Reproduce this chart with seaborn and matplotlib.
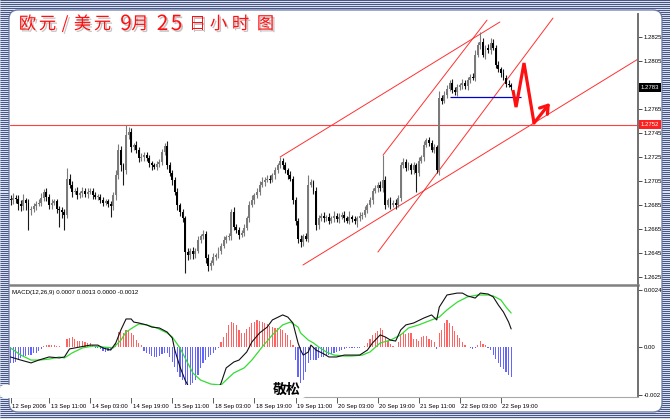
import numpy as np
import matplotlib
matplotlib.use("Agg")
import matplotlib.pyplot as plt
import seaborn as sns
import matplotlib.transforms as mtransforms
from matplotlib.patches import FancyBboxPatch, Rectangle
from matplotlib import patheffects as pe

sns.set_theme(style="white")
plt.rcParams["font.family"] = ["Liberation Sans", "DejaVu Sans"]

# ---------------- data (hourly EUR/USD bars, 12 Sep 20:00 .. 22 Sep 23:00) ----------------
closes = [
    1.2689, 1.2691, 1.2690, 1.2686, 1.2684, 1.2689, 1.2687, 1.2681, 1.2682, 1.2684,
    1.2686, 1.2687, 1.2691, 1.2696, 1.2692, 1.2685, 1.2687, 1.2688, 1.2682, 1.2681,
    1.2679, 1.2677, 1.2707, 1.2702, 1.2696, 1.2697, 1.2693, 1.2695, 1.2697, 1.2694,
    1.2696, 1.2697, 1.2693, 1.2692, 1.2692, 1.2689, 1.2687, 1.2688, 1.2686, 1.2684,
    1.2693, 1.2710, 1.2731, 1.2718, 1.2714, 1.2743, 1.2746, 1.2733, 1.2735, 1.2731,
    1.2724, 1.2725, 1.2727, 1.2724, 1.2720, 1.2718, 1.2717, 1.2719, 1.2721, 1.2729,
    1.2734, 1.2718, 1.2712, 1.2706, 1.2696, 1.2685, 1.2679, 1.2674, 1.2646, 1.2643,
    1.2647, 1.2644, 1.2647, 1.2656, 1.2659, 1.2661, 1.2641, 1.2634, 1.2637, 1.2642,
    1.2643, 1.2647, 1.2651, 1.2656, 1.2658, 1.2659, 1.2679, 1.2667, 1.2664, 1.2660,
    1.2662, 1.2666, 1.2674, 1.2685, 1.2689, 1.2693, 1.2696, 1.2702, 1.2704, 1.2706,
    1.2707, 1.2706, 1.2710, 1.2714, 1.2718, 1.2722, 1.2718, 1.2714, 1.2710, 1.2707,
    1.2689, 1.2672, 1.2657, 1.2654, 1.2659, 1.2657, 1.2702, 1.2704, 1.2697, 1.2668,
    1.2674, 1.2676, 1.2674, 1.2675, 1.2672, 1.2674, 1.2676, 1.2673, 1.2675, 1.2677,
    1.2674, 1.2672, 1.2675, 1.2673, 1.2672, 1.2674, 1.2676, 1.2677, 1.2681, 1.2685,
    1.2689, 1.2697, 1.2699, 1.2702, 1.2699, 1.2706, 1.2685, 1.2689, 1.2685, 1.2687,
    1.2685, 1.2691, 1.2718, 1.2721, 1.2716, 1.2718, 1.2714, 1.2718, 1.2712, 1.2722,
    1.2725, 1.2735, 1.2739, 1.2737, 1.2731, 1.2733, 1.2714, 1.2774, 1.2772, 1.2777,
    1.2782, 1.2787, 1.2781, 1.2779, 1.2783, 1.2785, 1.2787, 1.2784, 1.2789, 1.2792,
    1.2791, 1.2810, 1.2818, 1.2821, 1.2810, 1.2816, 1.2814, 1.2820, 1.2816, 1.2802,
    1.2798, 1.2795, 1.2791, 1.2786, 1.2785, 1.2783,
]
first_open = 1.2690
# wick extensions in pips beyond the candle body
wick_hi = [
    3, 4, 2, 3, 3, 5, 2, 3, 2, 3, 2, 3, 4, 2, 3, 2, 3, 2, 2, 2,
    2, 3, 9, 4, 3, 2, 3, 2, 3, 2, 3, 2, 2, 3, 2, 2, 3, 2, 2, 2,
    3, 4, 5, 3, 2, 9, 4, 3, 2, 3, 2, 3, 2, 2, 3, 2, 2, 3, 2, 3,
    3, 4, 3, 2, 2, 3, 2, 3, 2, 3, 2, 3, 2, 3, 2, 3, 2, 3, 2, 3,
    2, 3, 2, 3, 2, 3, 3, 4, 2, 3, 2, 3, 2, 3, 4, 2, 3, 3, 4, 2,
    3, 3, 2, 3, 2, 3, 2, 3, 2, 3, 2, 3, 2, 3, 2, 3, 8, 3, 2, 3,
    3, 2, 3, 2, 3, 2, 4, 2, 3, 2, 3, 2, 5, 2, 3, 2, 3, 2, 3, 2,
    3, 2, 3, 2, 3, 21, 3, 2, 3, 2, 3, 2, 3, 3, 2, 3, 2, 3, 2, 3,
    2, 3, 2, 3, 2, 3, 2, 6, 3, 3, 3, 2, 3, 2, 3, 2, 3, 2, 3, 2,
    3, 4, 3, 8, 3, 2, 3, 4, 3, 2, 3, 2, 3, 2, 3, 2,
]
wick_lo = [
    4, 3, 3, 5, 4, 3, 6, 17, 4, 3, 3, 2, 3, 3, 4, 3, 3, 2, 4, 14,
    5, 13, 3, 3, 4, 2, 3, 2, 3, 2, 3, 2, 3, 2, 3, 2, 3, 2, 3, 9,
    3, 4, 3, 5, 12, 3, 3, 4, 2, 3, 3, 2, 3, 2, 3, 4, 2, 3, 2, 3,
    2, 3, 3, 4, 3, 4, 3, 3, 18, 4, 3, 4, 3, 2, 3, 2, 4, 4, 3, 2,
    3, 2, 3, 2, 3, 2, 3, 3, 2, 3, 2, 3, 2, 3, 2, 3, 2, 3, 2, 3,
    2, 3, 2, 3, 2, 2, 3, 2, 3, 2, 3, 4, 4, 4, 3, 2, 3, 2, 3, 4,
    3, 2, 3, 2, 3, 2, 3, 2, 3, 2, 3, 2, 3, 2, 3, 5, 2, 3, 2, 3,
    2, 3, 2, 3, 2, 3, 3, 2, 3, 2, 3, 2, 3, 2, 3, 2, 3, 3, 16, 3,
    2, 3, 2, 3, 2, 3, 2, 4, 3, 2, 3, 2, 3, 2, 3, 2, 3, 2, 3, 2,
    2, 3, 2, 3, 2, 3, 2, 3, 2, 3, 2, 3, 2, 3, 2, 2,
]

# MACD histogram (units of 0.0001)
hist_e4 = [
    -6.9, -6.6, -6.2, -5.5, -4.8, -4.4, -3.8, -3.4, -3.2, -2.7,
    -2.4, -1.8, -1.0, 0.5, 0.8, 1.0, 0.8, 0.7, 0.4, 0.3,
    0.1, 0.0, 3.2, 3.9, 4.1, 3.2, 2.7, 2.7, 2.4, 2.2,
    1.8, 1.5, 0.8, -0.3, -0.6, -1.0, -1.5, -2.0, -1.5, -1.3,
    -0.6, 1.5, 6.5, 6.5, 6.0, 7.2, 6.9, 5.8, 5.1, 2.9,
    1.8, 0.8, -1.5, -2.4, -2.9, -3.8, -4.4, -4.1, -3.8, -2.9,
    -2.4, -2.7, -4.1, -6.2, -8.4, -10.5, -12.6, -14.0, -16.0, -16.7,
    -16.4, -15.3, -14.0, -11.9, -9.0, -6.9, -5.5, -4.4, -3.4, -2.4,
    -1.3, -0.6, 2.2, 4.4, 5.8, 9.3, 10.7, 10.3, 9.3, 7.2,
    6.0, 5.8, 7.4, 8.6, 10.0, 10.7, 11.4, 11.1, 10.7, 10.3,
    9.7, 8.8, 8.6, 8.1, 7.9, 7.4, 7.2, 6.0, 5.1, 2.9,
    0.8, -5.5, -12.6, -15.3, -14.0, -10.5, -6.9, -5.5, -5.5, -5.5,
    -4.8, -4.4, -4.1, -3.8, -3.4, -2.9, -2.4, -2.0, -1.5, -1.3,
    -1.0, -0.6, -0.6, -0.4, -0.6, -0.4, -0.3, -0.1, 0.4, 1.5,
    3.2, 5.1, 6.0, 6.9, 7.9, 7.2, 4.1, 2.5, 1.2, 0.4,
    0.1, 2.2, 5.3, 5.8, 5.5, 6.0, 5.8, 3.2, 3.2, 2.7,
    4.4, 4.6, 4.6, 3.2, 2.9, 2.2, -1.0, 5.8, 7.2, 10.0,
    11.4, 10.3, 8.8, 6.9, 5.1, 3.6, 2.2, 0.8, 0.1, -0.6,
    -1.0, -0.6, 0.8, 2.7, 1.2, 1.0, -0.3, -1.3, -3.4, -5.2,
    -6.9, -8.4, -9.4, -10.5, -11.6, -12.8,
]
macd_idx = [0, 4, 8, 11, 15, 19, 21, 23, 27, 31, 34, 36, 39, 41, 43, 45, 47, 48, 50, 53,
            55, 58, 61, 63, 64, 66, 68, 69, 71, 74, 77, 80, 82, 84, 87, 89, 92, 94, 97, 100,
            102, 106, 108, 110, 112, 113, 114, 116, 117, 119, 122, 124, 127, 130, 133, 136, 139, 141, 144, 146,
            148, 150, 152, 154, 157, 161, 164, 166, 167, 170, 174, 176, 178, 181, 183, 186, 188, 190, 192, 194, 195]
macd_e4 = [-4.2, -5.5, -6.7, -5.5, -4.2, -4.6, -4.2, -0.8, 0.0, 0.8, 0.8, -0.4, -1.3, 1.7, 7.2, 11.8, 11.8, 10.5, 10.1, 9.3,
           8.4, 8.0, 6.3, 3.8, -1.3, -8.4, -13.9, -16.0, -19.0, -21.0, -21.5, -19.5, -15.2, -8.8, -6.3, -5.5, -2.1, 2.1, 5.9, 8.4,
           11.4, 13.5, 12.6, 10.1, 1.7, -1.3, -3.4, -2.1, 0.8, -1.3, -2.9, -4.2, -4.2, -3.4, -3.4, -3.4, -1.3, 1.7, 5.1, 4.2,
           2.9, 2.5, 7.2, 9.3, 10.1, 12.2, 13.5, 11.4, 16.8, 21.9, 22.7, 22.7, 21.5, 20.6, 22.7, 22.3, 21.1, 17.7, 14.7, 10.5, 7.6]
sig_idx = [0, 4, 8, 11, 15, 19, 21, 24, 28, 32, 36, 40, 43, 45, 48, 50, 53, 57, 61, 63,
           66, 69, 71, 74, 78, 82, 84, 87, 91, 94, 98, 102, 106, 109, 112, 113, 116, 118, 120, 123,
           126, 130, 133, 137, 140, 144, 148, 152, 155, 159, 164, 167, 170, 174, 178, 182, 186, 188, 191, 193, 195]
sig_e4 = [-0.4, -3.4, -5.5, -5.5, -5.1, -4.2, -4.6, -2.5, -0.4, 0.4, 0.0, -0.4, 2.9, 6.3, 8.4, 9.7, 9.3, 8.0, 5.9, 4.2,
          -0.4, -6.7, -10.9, -13.9, -15.6, -16.0, -13.9, -10.9, -8.8, -5.5, 0.0, 5.1, 9.3, 10.5, 8.4, 5.9, 2.9, 1.7, 0.0, -2.1,
          -3.4, -3.8, -3.8, -3.4, -2.1, 1.7, 2.9, 5.1, 8.0, 9.3, 11.4, 12.6, 15.6, 18.9, 21.1, 21.9, 21.9, 21.5, 19.8, 16.8, 14.3]

tick_idx = [0, 15, 31, 47, 63, 79, 95, 111, 127, 143, 159, 175, 191]
tick_labels = ["12 Sep 2006", "13 Sep 11:00", "14 Sep 03:00", "14 Sep 19:00", "15 Sep 11:00",
               "18 Sep 03:00", "18 Sep 19:00", "19 Sep 11:00", "20 Sep 03:00", "20 Sep 19:00",
               "21 Sep 11:00", "22 Sep 03:00", "22 Sep 19:00"]
price_ticks = [1.2625, 1.2645, 1.2665, 1.2685, 1.2705, 1.2725, 1.2745, 1.2765, 1.2805, 1.2825]
macd_ticks = [0.0024, 0.0, -0.002]
macd_tick_labels = ["0.0024", "0.00", "-0.002"]
macd_caption = "MACD(12,26,9) 0.0007 0.0013 0.0000 -0.0012"
title_chars = "欧元/美元9月25日小时图"
watermark = "敬松"

level_price = 1.2752
last_price = 1.2783
# hand-drawn trend lines: (bar0, price0, bar1, price1)
trend_lines = [
    (105.0, 1.27250, 190.6, 1.28375),
    (145.1, 1.27266, 185.6, 1.28391),
    (113.9, 1.26350, 244.4, 1.28066),
    (143.1, 1.26458, 211.3, 1.28408),
]
support = (171.0, 199.0, 1.2775)
arrow_idx = [195.7, 196.9, 200.0, 203.9, 210.1]
arrow_price = [1.27808, 1.27666, 1.28033, 1.27533, 1.27700]

# ---------------- derived candle arrays ----------------
c = np.array(closes)
o = np.concatenate([[first_open], c[:-1]])
top = np.maximum(o, c)
bot = np.minimum(o, c)
hi = top + np.array(wick_hi) / 10000.0
lo = bot - np.array(wick_lo) / 10000.0
idx = np.arange(len(c))
up = c >= o

# ---------------- figure ----------------
W, H = 670, 419
fig = plt.figure(figsize=(W / 100, H / 100), dpi=100)
fig.patch.set_facecolor("white")

def fx(px):
    return px / W

def fy(py):
    return 1 - py / H

# striped frame background
bg = fig.add_axes([0, 0, 1, 1], zorder=-10)
bg.set_xlim(0, W)
bg.set_ylim(H, 0)
bg.axis("off")
bg.add_patch(Rectangle((0, 0), W, H, fc="#e2e7f0", ec="none", zorder=0))
bg.hlines(np.arange(0.5, H, 2.0), 0, W, color="#48578a", lw=0.75, zorder=1)
bg.add_patch(FancyBboxPatch((9, 10), 653, 402, boxstyle="round,pad=0,rounding_size=9",
                            fc="white", ec="#6a7aa0", lw=0.9, zorder=5))

XL = (-0.2, 244.4)
axp = fig.add_axes([fx(10), fy(285), fx(638) - fx(10), (285 - 14) / H])
axm = fig.add_axes([fx(10), fy(397), fx(638) - fx(10), (397 - 286) / H])
for ax in (axp, axm):
    ax.set_facecolor("none")
    ax.set_xlim(*XL)
    for s in ("left", "top"):
        ax.spines[s].set_visible(False)
    ax.spines["right"].set_color("#707070")
    ax.spines["right"].set_linewidth(1.4)
    ax.yaxis.tick_right()
    ax.tick_params(axis="y", which="both", right=True, left=False, direction="out",
                   length=3, width=0.6, color="#303030", labelsize=4.3, pad=1.2,
                   labelcolor="black")

axp.spines["bottom"].set_color("#808080")
axp.spines["bottom"].set_linewidth(1.8)
axm.spines["bottom"].set_color("#a8a8a8")
axm.spines["bottom"].set_linewidth(0.8)

# ---- price panel ----
axp.set_ylim(1.261833, 1.284417)
wick_cols = np.where(up, "#7a7a7a", "#1a1a1a")
body_cols = np.where(up, "#7a7a7a", "#000000")
axp.vlines(idx, lo, hi, colors=wick_cols, lw=0.8, zorder=3)
axp.bar(idx, np.maximum(top - bot, 0.00004), bottom=bot, width=0.75,
        color=body_cols, linewidth=0, zorder=4)

axp.axhline(level_price, color="#ff4040", lw=0.8, zorder=2)
for (i0, p0, i1, p1) in trend_lines:
    axp.plot([i0, i1], [p0, p1], color="#ff3030", lw=0.7, zorder=2)
axp.hlines(support[2], support[0], support[1], color="#0000cc", lw=0.9, zorder=5)
axp.plot(arrow_idx[:4], arrow_price[:4], color="#ff1010", lw=2.3, zorder=6,
         solid_joinstyle="miter", solid_capstyle="butt")
axp.annotate("", xy=(arrow_idx[4], arrow_price[4]), xytext=(arrow_idx[3], arrow_price[3]),
             arrowprops=dict(arrowstyle="->,head_length=0.45,head_width=0.3",
                             color="#ff1010", lw=2.3, shrinkA=0, shrinkB=0), zorder=6)

axp.set_xticks([])
axp.set_yticks(price_ticks)
axp.set_yticklabels([f"{p:.4f}" for p in price_ticks])

trans = mtransforms.blended_transform_factory(axp.transAxes, axp.transData)
axp.text(1.0045, level_price, f"{level_price:.4f}", transform=trans, fontsize=4.3,
         color="white", va="center", ha="left", zorder=10, clip_on=False,
         bbox=dict(boxstyle="square,pad=0.3", fc="#ff2020", ec="none"))
axp.text(1.0045, last_price, f"{last_price:.4f}", transform=trans, fontsize=4.3,
         color="white", va="center", ha="left", zorder=10, clip_on=False,
         bbox=dict(boxstyle="square,pad=0.3", fc="#000000", ec="none"))

# ---- MACD panel ----
axm.set_ylim(-0.002105, 0.002568)
hist = np.array(hist_e4) * 1e-4
hcols = np.where(hist >= 0, "#ff6464", "#6464ff")
axm.bar(idx, hist, width=0.45, color=hcols, linewidth=0, zorder=2)
sns.lineplot(x=np.array(sig_idx), y=np.array(sig_e4) * 1e-4, ax=axm, color="#33dd33",
             lw=0.9, zorder=3, sort=False)
sns.lineplot(x=np.array(macd_idx), y=np.array(macd_e4) * 1e-4, ax=axm, color="#111111",
             lw=0.8, zorder=4, sort=False)
axm.set_xlim(*XL)
axm.set_ylabel("")
axm.set_xlabel("")
axm.set_yticks(macd_ticks)
axm.set_yticklabels(macd_tick_labels)
axm.set_xticks(tick_idx)
axm.set_xticklabels(tick_labels)
axm.tick_params(axis="x", bottom=True, direction="out", length=4.5, width=0.6,
                color="#404040", labelsize=4.3, pad=0.6, labelcolor="black")
offs = mtransforms.ScaledTranslation(1.5 / 100, 0, fig.dpi_scale_trans)
for lbl in axm.get_xticklabels():
    lbl.set_horizontalalignment("left")
    lbl.set_transform(lbl.get_transform() + offs)
axm.text(0.003, 0.965, macd_caption, transform=axm.transAxes, fontsize=4.4,
         va="top", ha="left", color="black")

# ---- overlay: title and watermark ----
ov = fig.add_axes([0, 0, 1, 1], zorder=20)
ov.set_xlim(0, W)
ov.set_ylim(H, 0)
ov.axis("off")
ov.patch.set_alpha(0)
ov.add_patch(FancyBboxPatch((0, 385), 306, 13, boxstyle="round,pad=0,rounding_size=4",
                            fc="white", ec="none"))
ov.text(287, 390, watermark, fontsize=10, fontweight="bold", color="black",
        ha="center", va="center", family=["Noto Sans CJK SC", "DejaVu Sans"])

title_x = [27.5, 47.5, 65, 82.5, 102.5, 126, 140, 162.5, 176.5, 197.5, 218.5, 240.5, 265.5]
shadow = [pe.SimplePatchShadow(offset=(1.3, -1.3), shadow_rgbFace="#c4c4c4", alpha=1.0), pe.Normal()]
for ch, x in zip(title_chars, title_x):
    big = ch.isdigit()
    ov.text(x, 24, ch, fontsize=15 if big else 12.5, color="#ff1010", ha="center",
            va="center", family=["Noto Sans CJK SC", "DejaVu Sans"], path_effects=shadow)

fig.savefig("out.png", dpi=100)
